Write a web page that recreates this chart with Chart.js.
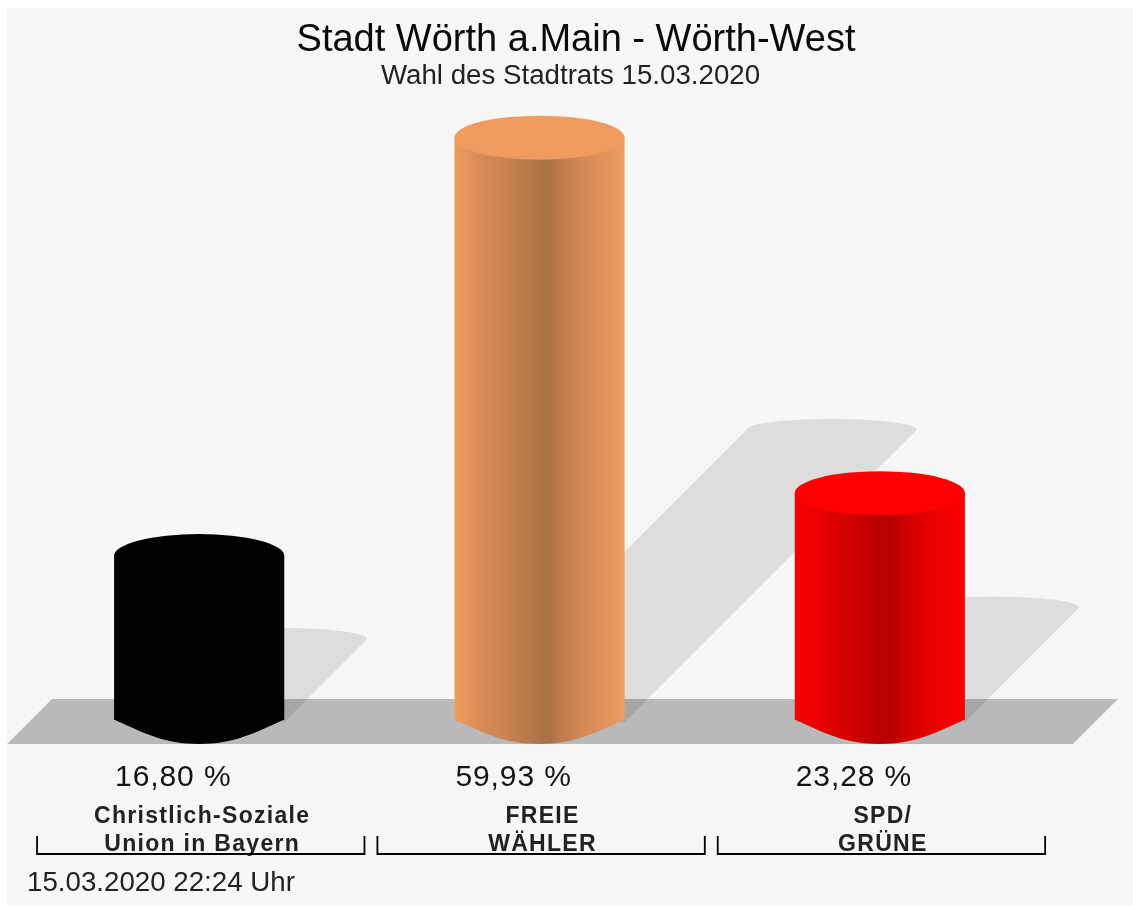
<!DOCTYPE html>
<html lang="de">
<head>
<meta charset="utf-8">
<title>Stadt Wörth a.Main - Wörth-West</title>
<script src="https://cdn.jsdelivr.net/npm/chart.js@4"></script>
<style>
html,body{margin:0;padding:0;background:#fff;overflow:hidden}
#wrap{width:1133px;height:908px;position:relative}
canvas{display:block;filter:blur(0.45px)}
</style>
</head>
<body>
<div id="wrap"><canvas id="c" width="1133" height="908"></canvas></div>
<script>
const categories = [["Christlich-Soziale","Union in Bayern"],["FREIE","WÄHLER"],["SPD/","GRÜNE"]];
const values = [16.80, 59.93, 23.28];
const valueLabels = ["16,80 %","59,93 %","23,28 %"];
const barColors = ["#000000","#f09c60","#ff0000"];
const chartTitle = "Stadt Wörth a.Main - Wörth-West";
const chartSubtitle = "Wahl des Stadtrats 15.03.2020";
const footerText = "15.03.2020 22:24 Uhr";

const FONT = '"Liberation Sans", Arial, sans-serif';
const CAP_RY = 22;

function shade(hex, f){
  const n = parseInt(hex.slice(1),16);
  const r = Math.round(((n>>16)&255)*f), g = Math.round(((n>>8)&255)*f), b = Math.round((n&255)*f);
  return `rgb(${r},${g},${b})`;
}
const sideStops = [[0,1],[0.05,0.97],[0.15,0.9],[0.3,0.84],[0.44,0.76],[0.56,0.71],[0.62,0.79],[0.77,0.89],[0.89,0.94],[1,1]];
function sideGradient(ctx, left, right, hex){
  const g = ctx.createLinearGradient(left,0,right,0);
  sideStops.forEach(([p,f])=>g.addColorStop(p,shade(hex,f)));
  return g;
}

const cylinderPlugin = {
  id:'cylinder',
  beforeDraw(chart){
    const c = chart.ctx;
    c.save();
    c.fillStyle='#ffffff'; c.fillRect(0,0,chart.width,chart.height);
    c.fillStyle='#f7f7f7'; c.fillRect(7,8,chart.width-7,897);
    c.restore();
    c.letterSpacing='1.3px';
  },
  beforeDatasetsDraw(chart){
    const c = chart.ctx, bars = chart.getDatasetMeta(0).data;
    const base = chart.chartArea.bottom, sb = base+2;
    c.save();
    // floor
    c.fillStyle='#b9b9b9';
    c.beginPath();
    c.moveTo(7,base+24); c.lineTo(52,base-21); c.lineTo(1118,base-21); c.lineTo(1073,base+24);
    c.closePath(); c.fill();
    // cast shadows
    c.fillStyle='rgba(0,0,0,0.1)';
    bars.forEach(b=>{
      const hw=b.width/2, h=(sb-b.y)/2, l=b.x-hw, r=b.x+hw, ty=sb-h;
      c.beginPath();
      c.moveTo(l,sb); c.lineTo(r,sb); c.lineTo(r+h,ty);
      c.ellipse(b.x+h,ty,hw,11,0,0,Math.PI,true);
      c.closePath(); c.fill();
    });
    c.restore();
  },
  afterDatasetsDraw(chart){
    const c = chart.ctx, bars = chart.getDatasetMeta(0).data;
    const base = chart.chartArea.bottom;
    c.save();
    bars.forEach((b,i)=>{
      const hw=b.width/2, hex=barColors[i], l=b.x-hw, r=b.x+hw;
      // bottom of the cylinder
      c.fillStyle=sideGradient(c,l,r,hex);
      c.beginPath();
      c.moveTo(l,base-0.5);
      c.bezierCurveTo(l+30,base+13,b.x-35,base+24,b.x,base+24);
      c.bezierCurveTo(b.x+35,base+24,r-30,base+13,r,base-0.5);
      c.closePath(); c.fill();
      // top cap
      c.fillStyle=hex;
      c.beginPath(); c.ellipse(b.x,b.y,hw,CAP_RY,0,0,2*Math.PI); c.fill();
      // value label
      c.fillStyle='#141414'; c.textAlign='left'; c.textBaseline='alphabetic';
      c.letterSpacing='0.9px';
      c.font=`30px ${FONT}`;
      c.fillText(valueLabels[i],l+1,786);
    });
    // brackets
    c.strokeStyle='#000000'; c.lineWidth=1.8;
    bars.forEach(b=>{
      const cx=b.x+1.6, w=163.7;
      c.beginPath();
      c.moveTo(cx-w,836); c.lineTo(cx-w,854); c.lineTo(cx+w,854); c.lineTo(cx+w,836);
      c.stroke();
    });
    // texts
    c.fillStyle='#0a0a0a'; c.textAlign='center';
    c.letterSpacing='0px';
    c.font=`38px ${FONT}`;
    c.fillText(chartTitle,576,51);
    c.fillStyle='#222222';
    c.font=`27.7px ${FONT}`;
    c.fillText(chartSubtitle,570.5,84);
    c.textAlign='left';
    c.font=`27.7px ${FONT}`;
    c.fillText(footerText,27,891);
    c.restore();
  }
};

Chart.defaults.animation=false;
new Chart(document.getElementById('c'),{
  type:'bar',
  data:{
    labels:categories,
    datasets:[{
      data:values,
      base:-0.103,
      barPercentage:0.5,
      categoryPercentage:1,
      borderWidth:0,
      backgroundColor(ctx){
        const chart=ctx.chart, sx=chart.scales.x;
        if(!chart.chartArea||!sx||!isFinite(sx.width)||ctx.dataIndex===undefined) return '#000';
        const x=sx.getPixelForValue(ctx.dataIndex), w=sx.width/categories.length/2;
        if(!isFinite(x)||!isFinite(w)) return barColors[ctx.dataIndex];
        return sideGradient(chart.ctx,x-w/2,x+w/2,barColors[ctx.dataIndex]);
      }
    }]
  },
  options:{
    responsive:false,
    devicePixelRatio:1,
    animation:false,
    layout:{padding:{left:29,right:83,top:20,bottom:0}},
    plugins:{legend:{display:false},tooltip:{enabled:false},title:{display:false}},
    scales:{
      y:{display:false,min:-0.103,max:72.062,grid:{display:false}},
      x:{
        afterFit(s){s.height=188;},
        grid:{display:false,drawTicks:false},
        border:{display:false},
        ticks:{
          maxRotation:0,autoSkip:false,padding:83,labelOffset:3,
          color:'#222222',
          font:{family:'"Liberation Sans", Arial, sans-serif',size:23,weight:'bold',lineHeight:1.22}
        }
      }
    }
  },
  plugins:[cylinderPlugin]
});
</script>
</body>
</html>
